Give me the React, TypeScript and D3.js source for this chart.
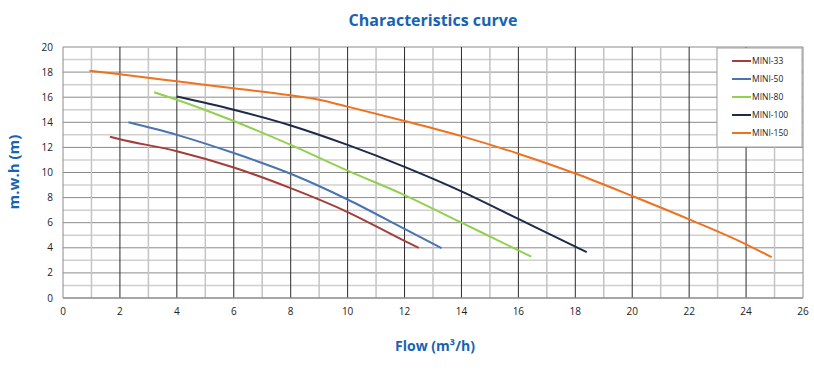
import React from "react";
import * as d3 from "d3";

const seriesNames = ["MINI-33", "MINI-50", "MINI-80", "MINI-100", "MINI-150"];
const seriesColors = ["#a23e3b", "#4a74b0", "#92d050", "#1d2b48", "#ee7220"];

const mini33X = [1.65, 2, 4, 6, 8, 10, 12, 12.5];
const mini33Y = [12.85, 12.65, 11.7, 10.4, 8.75, 6.85, 4.55, 4.0];
const mini50X = [2.3, 4, 6, 8, 10, 12, 13.3];
const mini50Y = [14.0, 13.0, 11.55, 9.9, 7.85, 5.5, 3.97];
const mini80X = [3.2, 4, 6, 8, 10, 12, 14, 16, 16.45];
const mini80Y = [16.4, 15.8, 14.1, 12.2, 10.15, 8.2, 6.0, 3.8, 3.3];
const mini100X = [4, 6, 8, 10, 12, 14, 16, 18, 18.4];
const mini100Y = [16.05, 15.0, 13.75, 12.2, 10.45, 8.5, 6.3, 4.1, 3.65];
const mini150X = [0.93, 2, 4, 6, 8, 9, 10, 12, 14, 16, 18, 20, 22, 24, 24.9];
const mini150Y = [18.1, 17.82, 17.27, 16.71, 16.15, 15.8, 15.25, 14.1, 12.9, 11.5, 9.92, 8.13, 6.27, 4.28, 3.25];

const seriesX = [mini33X, mini50X, mini80X, mini100X, mini150X];
const seriesY = [mini33Y, mini50Y, mini80Y, mini100Y, mini150Y];

const xTicks = [0, 2, 4, 6, 8, 10, 12, 14, 16, 18, 20, 22, 24, 26];
const yTicks = [0, 2, 4, 6, 8, 10, 12, 14, 16, 18, 20];

const title = "Characteristics curve";
const xTitle = "Flow (m³/h)";
const yTitle = "m.w.h (m)";

export default function App() {
  const W = 814, H = 375;
  const left = 63, right = 803, top = 47, bottom = 298;
  const x = d3.scaleLinear().domain([0, 26]).range([left, right]);
  const y = d3.scaleLinear().domain([0, 20]).range([bottom, top]);
  const line = d3.line<[number, number]>().x(d => x(d[0])).y(d => y(d[1])).curve(d3.curveMonotoneX);
  const blue = "#1763b3";
  const font = "'Open Sans', 'Noto Sans', sans-serif";

  const vGrid = d3.range(1, 26);
  const hGrid = d3.range(1, 21);

  return (
    <svg width={W} height={H} style={{ position: "absolute", left: 0, top: 0, background: "#fff" }} fontFamily={font}>
      <rect x={0} y={0} width={W} height={H} fill="#fff" />
      {hGrid.map(v => (
        <line key={"h" + v} x1={left} x2={right} y1={y(v)} y2={y(v)}
          stroke={v % 2 === 0 ? "#8a8a8a" : "#d0d0d0"} strokeWidth={v % 2 === 0 ? 1 : 1.5} />
      ))}
      {vGrid.map(v => (
        <line key={"v" + v} x1={x(v)} x2={x(v)} y1={top} y2={bottom}
          stroke={v % 2 === 0 ? "#2a2a2a" : "#c4c4c4"} strokeWidth={v % 2 === 0 ? 1 : 1.5} />
      ))}
      <line x1={left} x2={left} y1={top} y2={bottom} stroke="#8a8a8a" />
      <line x1={left} x2={right} y1={bottom} y2={bottom} stroke="#8a8a8a" strokeWidth={1.5} />
      <line x1={right} x2={right} y1={top} y2={bottom} stroke="#8a8a8a" />

      {seriesX.map((xs, i) => (
        <path key={seriesNames[i]} d={line(xs.map((v, j) => [v, seriesY[i][j]] as [number, number])) || ""}
          fill="none" stroke={seriesColors[i]} strokeWidth={2} />
      ))}

      {yTicks.map(v => (
        <text key={"yt" + v} x={left - 10} y={y(v)} dy="0.35em" textAnchor="end" fontSize={10} fill="#222">{v}</text>
      ))}
      {xTicks.map(v => (
        <text key={"xt" + v} x={x(v)} y={bottom + 17} textAnchor="middle" fontSize={10} fill="#222">{v}</text>
      ))}

      <g>
        <rect x={717} y={48} width={85} height={99} fill="#fff" stroke="#a0a0a0" />
        {seriesNames.map((n, i) => (
          <g key={"lg" + n} transform={`translate(0, ${61 + i * 18})`}>
            <line x1={732} x2={751} y1={0} y2={0} stroke={seriesColors[i]} strokeWidth={2} />
            <text x={752} y={0} dy="0.35em" fontSize={8.5} fill="#222">{n}</text>
          </g>
        ))}
      </g>

      <text x={433} y={26} textAnchor="middle" fontSize={16} fontWeight="bold" fill={blue}>{title}</text>
      <text x={435} y={351} textAnchor="middle" fontSize={14} fontWeight="bold" fill={blue}>{xTitle}</text>
      <text transform={`translate(19, 172) rotate(-90)`} textAnchor="middle" fontSize={15} fontWeight="bold" fill={blue}>{yTitle}</text>
    </svg>
  );
}
